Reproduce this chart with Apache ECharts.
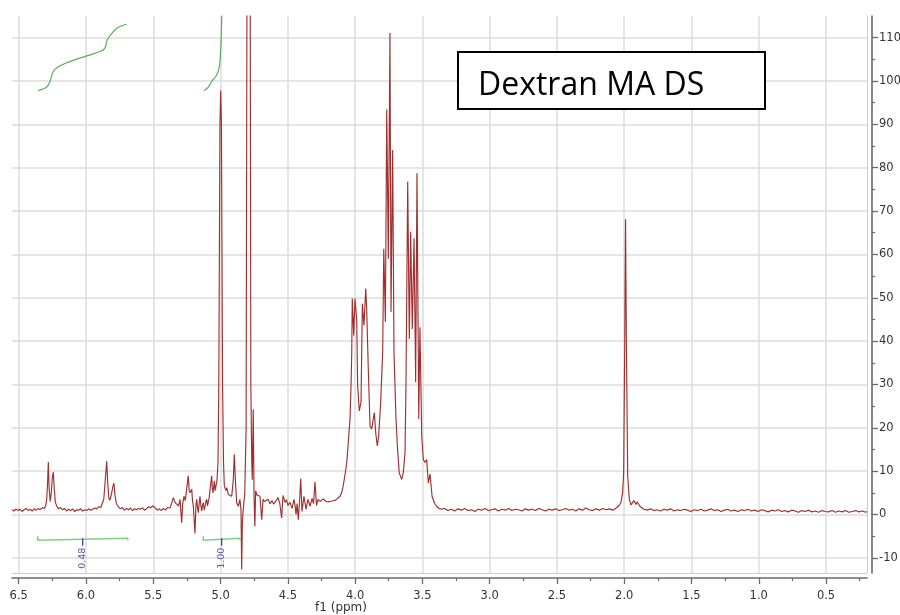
<!DOCTYPE html>
<html>
<head>
<meta charset="utf-8">
<title>Dextran MA DS – 1H NMR</title>
<script src="https://cdn.jsdelivr.net/npm/echarts@6/dist/echarts.min.js"></script>
<style>
  html, body { margin: 0; padding: 0; background: #fff; }
  #chart { width: 900px; height: 615px; }
</style>
</head>
<body>
<div id="chart"></div>
<script>
// 1H NMR trace: [chemical shift (ppm), intensity]
const spectrum = [
  [6.550,1.1],[6.535,0.8],[6.520,1.3],[6.505,0.9],[6.490,1.2],[6.475,0.7],[6.460,1.1],[6.445,1.4],
  [6.430,0.9],[6.415,1.2],[6.400,0.8],[6.385,1.3],[6.370,1.0],[6.355,1.4],[6.340,1.1],[6.325,1.6],
  [6.310,1.4],[6.300,2.0],[6.292,3.5],[6.286,7.0],[6.280,12.1],[6.274,6.0],[6.266,3.0],[6.258,5.0],
  [6.250,8.5],[6.243,9.8],[6.236,6.0],[6.228,2.8],[6.218,2.0],[6.205,1.3],[6.190,1.6],[6.175,1.1],
  [6.160,1.4],[6.145,0.8],[6.130,1.2],[6.115,0.9],[6.100,1.3],[6.085,0.7],[6.070,1.1],[6.055,1.0],
  [6.040,1.3],[6.025,0.8],[6.010,1.1],[5.995,0.9],[5.980,1.3],[5.965,1.0],[5.950,1.2],[5.935,1.5],
  [5.920,1.3],[5.905,1.8],[5.890,1.6],[5.880,2.0],[5.868,3.5],[5.858,7.5],[5.846,12.3],[5.838,7.0],
  [5.830,3.8],[5.822,3.3],[5.812,4.5],[5.800,6.5],[5.792,7.2],[5.785,4.5],[5.775,2.6],[5.760,1.8],
  [5.745,1.3],[5.730,1.6],[5.715,1.0],[5.700,1.4],[5.685,1.1],[5.670,1.5],[5.655,0.9],[5.640,1.3],
  [5.625,1.1],[5.610,1.4],[5.595,1.2],[5.580,1.5],[5.565,1.0],[5.550,1.3],[5.535,1.8],[5.520,1.5],
  [5.505,2.0],[5.495,2.2],[5.485,1.5],[5.470,1.0],[5.455,1.3],[5.440,0.9],[5.425,1.4],[5.410,1.0],
  [5.395,1.6],[5.385,2.0],[5.376,1.5],[5.363,2.6],[5.351,3.9],[5.338,2.8],[5.326,2.7],[5.313,1.9],
  [5.301,3.5],[5.289,-1.9],[5.281,2.5],[5.272,4.2],[5.262,3.2],[5.252,5.8],[5.240,8.9],[5.233,5.5],
  [5.227,5.0],[5.214,5.8],[5.208,3.0],[5.202,1.9],[5.190,-4.4],[5.183,2.0],[5.177,3.5],[5.171,1.5],
  [5.165,0.4],[5.159,2.5],[5.153,4.2],[5.146,2.0],[5.140,0.8],[5.134,2.2],[5.128,2.7],[5.121,1.0],
  [5.115,1.9],[5.109,3.0],[5.103,3.5],[5.097,2.0],[5.091,2.3],[5.084,4.0],[5.078,5.8],[5.066,8.9],
  [5.061,6.0],[5.056,5.0],[5.046,7.7],[5.040,5.5],[5.034,5.8],[5.026,8.0],[5.019,12.0],[5.013,30.0],
  [5.0045,90.0],[4.999,97.8],[4.9935,90.0],[4.985,30.0],[4.978,12.0],[4.972,6.6],[4.960,5.5],
  [4.954,6.2],[4.942,4.6],[4.929,5.0],[4.917,4.2],[4.905,8.1],[4.898,13.9],[4.890,8.1],[4.880,2.7],
  [4.868,1.9],[4.856,3.5],[4.848,1.0],[4.843,-12.7],[4.838,-2.0],[4.833,0.5],[4.820,5.0],[4.810,20.0],
  [4.802,150.0],[4.7915,600.0],[4.781,150.0],[4.775,30.0],[4.768,12.0],[4.764,8.0],[4.757,24.3],
  [4.751,4.0],[4.745,-2.7],[4.739,5.5],[4.730,4.5],[4.722,4.9],[4.707,4.2],[4.694,-1.2],[4.684,3.5],
  [4.673,3.0],[4.662,2.8],[4.647,3.5],[4.632,2.5],[4.617,3.2],[4.606,2.4],[4.595,2.8],[4.584,3.3],
  [4.573,3.9],[4.560,2.6],[4.546,-0.8],[4.536,4.4],[4.521,2.8],[4.510,3.4],[4.499,2.1],[4.484,2.8],
  [4.469,1.4],[4.454,3.5],[4.446,2.0],[4.439,0.0],[4.431,2.5],[4.422,-1.2],[4.413,3.0],[4.404,8.3],
  [4.395,0.7],[4.380,4.2],[4.365,1.2],[4.350,3.5],[4.335,1.9],[4.320,3.7],[4.309,2.5],[4.298,7.5],
  [4.287,2.1],[4.276,3.5],[4.261,3.0],[4.248,3.4],[4.236,3.6],[4.226,3.3],[4.216,3.0],[4.200,2.9],
  [4.187,2.8],[4.170,3.1],[4.157,2.8],[4.145,3.3],[4.135,3.2],[4.112,4.2],[4.100,5.0],[4.090,6.3],
  [4.076,9.0],[4.062,12.0],[4.049,17.4],[4.038,22.0],[4.030,30.0],[4.025,37.4],[4.021,49.8],
  [4.010,41.3],[4.001,49.8],[3.988,45.0],[3.981,29.7],[3.969,23.9],[3.956,25.9],[3.946,48.6],
  [3.934,43.6],[3.921,52.1],[3.914,47.5],[3.902,33.6],[3.889,20.4],[3.877,19.7],[3.865,22.0],
  [3.857,23.5],[3.847,18.9],[3.835,15.8],[3.825,18.1],[3.810,25.9],[3.795,37.4],[3.787,61.3],
  [3.775,44.4],[3.765,93.4],[3.753,59.0],[3.741,111.1],[3.733,46.7],[3.721,84.1],[3.711,37.4],
  [3.696,22.0],[3.686,15.8],[3.672,9.6],[3.654,8.1],[3.642,9.6],[3.629,14.3],[3.622,29.7],
  [3.609,76.8],[3.597,40.5],[3.587,65.2],[3.575,42.8],[3.562,63.7],[3.550,30.5],[3.540,78.7],
  [3.527,22.0],[3.518,43.2],[3.505,18.1],[3.493,12.7],[3.481,12.0],[3.468,12.7],[3.456,7.3],
  [3.443,9.3],[3.428,4.2],[3.410,2.6],[3.395,1.9],[3.380,1.5],[3.360,1.2],[3.335,1.4],[3.310,0.9],
  [3.285,1.2],[3.260,0.8],[3.235,1.3],[3.210,1.0],[3.185,1.4],[3.160,0.9],[3.135,1.1],[3.110,0.7],
  [3.085,1.2],[3.060,1.0],[3.035,1.4],[3.010,0.9],[2.985,1.1],[2.960,1.3],[2.935,0.8],[2.910,1.2],
  [2.885,1.0],[2.860,1.4],[2.835,0.9],[2.810,1.2],[2.785,1.1],[2.760,0.8],[2.735,1.3],[2.710,1.0],
  [2.685,1.2],[2.660,0.9],[2.635,1.4],[2.610,1.1],[2.585,0.8],[2.560,1.2],[2.535,1.0],[2.510,1.3],
  [2.485,0.9],[2.460,1.1],[2.435,1.4],[2.410,1.0],[2.385,1.2],[2.360,0.8],[2.335,1.3],[2.310,1.0],
  [2.285,1.5],[2.260,1.1],[2.235,0.9],[2.210,1.3],[2.185,1.0],[2.160,1.4],[2.135,1.1],[2.110,1.3],
  [2.085,1.0],[2.060,1.5],[2.040,2.0],[2.025,2.7],[2.012,5.0],[2.004,9.6],[1.996,40.0],[1.990,68.1],
  [1.984,40.0],[1.974,8.9],[1.962,3.5],[1.950,2.2],[1.940,1.9],[1.928,3.2],[1.920,3.6],[1.912,2.3],
  [1.904,2.9],[1.895,3.1],[1.883,1.9],[1.870,1.6],[1.855,1.2],[1.830,1.0],[1.805,1.3],[1.780,0.9],
  [1.755,1.1],[1.730,0.8],[1.705,1.2],[1.680,1.0],[1.655,1.3],[1.630,0.8],[1.605,1.1],[1.580,0.9],
  [1.555,1.2],[1.530,1.0],[1.505,0.7],[1.480,1.1],[1.455,0.9],[1.430,1.2],[1.405,0.8],[1.380,1.0],
  [1.355,1.3],[1.330,0.9],[1.305,1.1],[1.280,0.7],[1.255,1.0],[1.230,1.2],[1.205,0.8],[1.180,1.0],
  [1.155,0.7],[1.130,1.1],[1.105,0.9],[1.080,1.2],[1.055,0.8],[1.030,1.0],[1.005,0.7],[0.980,1.1],
  [0.955,0.9],[0.930,0.6],[0.905,1.0],[0.880,0.8],[0.855,1.1],[0.830,0.7],[0.805,0.9],[0.780,0.6],
  [0.755,1.0],[0.730,0.8],[0.705,0.5],[0.680,0.9],[0.655,0.7],[0.630,1.0],[0.605,0.6],[0.580,0.8],
  [0.555,0.5],[0.530,0.9],[0.505,0.7],[0.480,0.6],[0.455,0.9],[0.430,0.5],[0.405,0.8],[0.380,0.6],
  [0.355,0.9],[0.330,0.5],[0.305,0.7],[0.280,0.9],[0.255,0.6],[0.230,0.8],[0.205,0.5],[0.196,0.7]
];

// Running integral curves, plotted on the intensity scale
const integralCurveA = [
  [6.355,97.8],[6.292,98.6],[6.268,99.9],[6.243,102.2],[6.206,103.3],[6.143,104.2],[5.995,105.8],
  [5.896,106.8],[5.859,107.6],[5.842,109.5],[5.797,111.4],[5.760,112.4],[5.698,113.1]
];
const integralCurveB = [
  [5.123,97.8],[5.091,98.6],[5.066,99.9],[5.029,101.4],[5.009,103.3],[4.999,107.2],[4.994,111.0],
  [4.991,115.0],[4.989,125.0]
];

// Integration regions (ppm from, ppm to) and their relative values
const integralRanges = [[6.359, 5.690], [5.128, 4.855]];
const integralValues = ['0.48', '1.00'];

// Axis ticks
const xTicks = [0.5, 1.0, 1.5, 2.0, 2.5, 3.0, 3.5, 4.0, 4.5, 5.0, 5.5, 6.0, 6.5];
const xMinorTicks = [0.25, 0.75, 1.25, 1.75, 2.25, 2.75, 3.25, 3.75, 4.25, 4.75, 5.25, 5.75, 6.25];
const yTicks = [-10, 0, 10, 20, 30, 40, 50, 60, 70, 80, 90, 100, 110];
const yMinorTicks = [-5, 5, 15, 25, 35, 45, 55, 65, 75, 85, 95, 105];

const chartTitle = 'Dextran MA DS';
const xAxisTitle = 'f1 (ppm)';

// ---- drawing ----
const X_MIN = 0.1955, X_MAX = 6.55, Y_MIN = -13.5, Y_MAX = 115;
const AXIS_COLOR = '#6a6a6a';
const GRID_COLOR = '#dcdcdc';
const BORDER_COLOR = '#cdcdcd';
const TRACE_COLOR = '#a0302f';
const INTEGRAL_COLOR = '#5aae5a';
const BAR_COLOR = '#86cc86';
const VALUE_COLOR = '#2b3599';
const BAR_LEVEL = -5.5;
const CAP = 0.45;
const TICK_END = -7.2;
const LABEL_LEVEL = -10.1;
const labelFont = { fontFamily: 'DejaVu Sans', fontSize: 11.5, color: '#333' };

const xBase = { type: 'value', min: X_MIN, max: X_MAX, inverse: true, position: 'bottom', gridIndex: 0 };
const yBase = { type: 'value', min: Y_MIN, max: Y_MAX, position: 'right', gridIndex: 0 };

function barPath(r) {
  const a = r[0], b = r[1];
  return [[a, BAR_LEVEL + CAP], [a, BAR_LEVEL - CAP], [a, BAR_LEVEL], [b, BAR_LEVEL],
          [b, BAR_LEVEL + CAP], [b, BAR_LEVEL - CAP]];
}

const series = [
  {
    name: 'spectrum', type: 'line', data: spectrum, showSymbol: false, symbol: 'none',
    lineStyle: { color: TRACE_COLOR, width: 1.15 }, clip: true, z: 3, silent: true, animation: false
  },
  {
    type: 'line', data: integralCurveA, showSymbol: false, symbol: 'none', smooth: 0.35,
    lineStyle: { color: INTEGRAL_COLOR, width: 1.2 }, clip: true, z: 4, silent: true
  },
  {
    type: 'line', data: integralCurveB, showSymbol: false, symbol: 'none', smooth: 0.35,
    lineStyle: { color: INTEGRAL_COLOR, width: 1.2 }, clip: true, z: 4, silent: true
  }
];

integralRanges.forEach(function (r, i) {
  const mid = (r[0] + r[1]) / 2;
  series.push({
    type: 'line', data: barPath(r), showSymbol: false, symbol: 'none',
    lineStyle: { color: BAR_COLOR, width: 1.6 }, z: 4, silent: true
  });
  series.push({
    type: 'line', data: [[mid, BAR_LEVEL], [mid, TICK_END]], showSymbol: false, symbol: 'none',
    lineStyle: { color: VALUE_COLOR, width: 1.2 }, z: 4, silent: true
  });
  series.push({
    type: 'scatter', data: [[mid, LABEL_LEVEL]], symbolSize: 0, z: 5, silent: true,
    label: {
      show: true, position: 'inside', rotate: 90,
      formatter: function () { return integralValues[i]; },
      fontFamily: 'DejaVu Sans', fontSize: 9.5, color: VALUE_COLOR
    }
  });
});

const option = {
  animation: false,
  backgroundColor: '#ffffff',
  grid: { left: 12, right: 33, top: 16, bottom: 42, containLabel: false, outerBoundsMode: 'none' },
  xAxis: [
    Object.assign({}, xBase, {
      offset: 5,
      axisLine: { show: true, onZero: false, lineStyle: { color: AXIS_COLOR, width: 1.6 } },
      axisTick: { show: true, customValues: xTicks, length: 6, lineStyle: { color: AXIS_COLOR, width: 1.3 } },
      axisLabel: Object.assign({ customValues: xTicks, margin: 12, formatter: function (v) { return v.toFixed(1); } }, labelFont),
      splitLine: { show: true, lineStyle: { color: GRID_COLOR, width: 1.5 } }
    }),
    Object.assign({}, xBase, {
      offset: 5,
      axisLine: { show: false, onZero: false },
      axisTick: { show: true, customValues: xMinorTicks, length: 3, lineStyle: { color: AXIS_COLOR, width: 1.2 } },
      axisLabel: { show: false },
      splitLine: { show: false }
    }),
    Object.assign({}, xBase, {
      offset: 0,
      axisLine: { show: true, onZero: false, lineStyle: { color: BORDER_COLOR, width: 1 } },
      axisTick: { show: false }, axisLabel: { show: false }, splitLine: { show: false }
    })
  ],
  yAxis: [
    Object.assign({}, yBase, {
      offset: 5,
      axisLine: { show: true, onZero: false, lineStyle: { color: AXIS_COLOR, width: 1.6 } },
      axisTick: { show: true, customValues: yTicks, length: 6, lineStyle: { color: AXIS_COLOR, width: 1.3 } },
      axisLabel: Object.assign({ customValues: yTicks, margin: 7 }, labelFont),
      splitLine: { show: true, lineStyle: { color: GRID_COLOR, width: 1.5 } }
    }),
    Object.assign({}, yBase, {
      offset: 5,
      axisLine: { show: false, onZero: false },
      axisTick: { show: true, customValues: yMinorTicks, length: 3, lineStyle: { color: AXIS_COLOR, width: 1.2 } },
      axisLabel: { show: false },
      splitLine: { show: false }
    }),
    Object.assign({}, yBase, {
      offset: 0,
      axisLine: { show: true, onZero: false, lineStyle: { color: BORDER_COLOR, width: 1 } },
      axisTick: { show: false }, axisLabel: { show: false }, splitLine: { show: false }
    })
  ],
  series: series,
  graphic: [
    {
      type: 'group', left: 457, top: 51, z: 100,
      children: [
        { type: 'rect', shape: { x: 0, y: 0, width: 307, height: 57 },
          style: { fill: '#ffffff', stroke: '#000000', lineWidth: 2 }, z: 100 },
        { type: 'text', x: 20, y: 34, z: 101,
          style: { text: chartTitle, font: '32px "Open Sans"', fill: '#000000', verticalAlign: 'middle', align: 'left' } }
      ]
    },
    {
      type: 'text', x: 341, y: 608, z: 100,
      style: { text: xAxisTitle, font: '12px "DejaVu Sans"', fill: '#333', align: 'center', verticalAlign: 'middle' }
    }
  ]
};

const chart = echarts.init(document.getElementById('chart'), null, { renderer: 'canvas' });
chart.setOption(option);
</script>
</body>
</html>
